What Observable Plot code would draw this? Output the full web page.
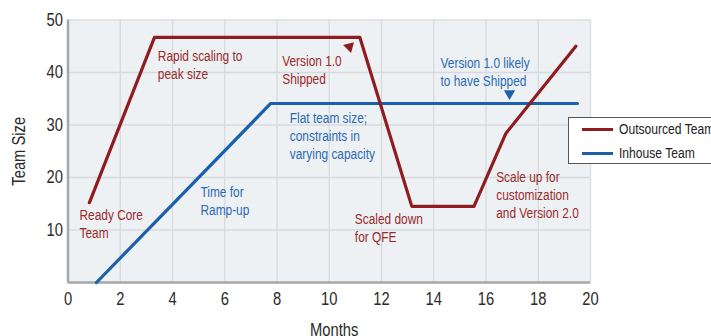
<!DOCTYPE html>
<html>
<head>
<meta charset="utf-8">
<script src="https://cdn.jsdelivr.net/npm/d3@7"></script>
<script src="https://cdn.jsdelivr.net/npm/@observablehq/plot@0.6"></script>
<style>
  html, body { margin: 0; padding: 0; background: #fff; overflow: hidden; width: 711px; height: 336px; }
  #wrap { position: relative; width: 711px; height: 336px; overflow: hidden; }
  #legend {
    position: absolute; left: 568px; top: 117px; width: 200px; height: 47px;
    border: 1.5px solid #555; background: #fff; box-sizing: border-box;
    font-family: 'Liberation Sans', Arial, sans-serif; font-size: 15.5px; color: #222;
  }
  .item { position: absolute; left: 13px; display: flex; align-items: center; white-space: nowrap; }
  .sw { width: 31px; height: 3px; margin-right: 6px; flex: none; }
  .lab { display: inline-block; transform: scaleX(0.78); transform-origin: 0 50%; }
</style>
</head>
<body>
<div id="wrap"></div>
<script>
// ---- data ----
const outsourcedMonth = [0.82, 3.31, 11.17, 13.16, 15.54, 16.76, 19.44];
const outsourcedSize  = [15.2, 46.7, 46.7, 14.5, 14.5, 28.4, 45.0];
const inhouseMonth = [1.09, 7.76, 19.5];
const inhouseSize  = [0, 34.1, 34.1];

const xTicks = [0, 2, 4, 6, 8, 10, 12, 14, 16, 18, 20];
const yTicks = [10, 20, 30, 40, 50];
const xGrid = [2, 4, 6, 8, 10, 12, 14, 16, 18];
const yGrid = [10, 20, 30, 40];

const seriesNames = ["Outsourced Team", "Inhouse Team"];
const seriesColors = ["#8e1c20", "#1d60a9"];

const noteTexts = [
  "Ready Core\nTeam",
  "Rapid scaling to\npeak size",
  "Version 1.0\nShipped",
  "Flat team size;\nconstraints in\nvarying capacity",
  "Time for\nRamp-up",
  "Version 1.0 likely\nto have Shipped",
  "Scaled down\nfor QFE",
  "Scale up for\ncustomization\nand Version 2.0"
];
const noteMonth = [0.44, 3.44, 8.2, 8.49, 5.07, 14.26, 10.98, 16.39];
const noteSize  = [14.3, 44.7, 43.6, 32.8, 18.8, 43.2, 13.6, 21.5];
const noteSeries = ["Outsourced Team", "Outsourced Team", "Outsourced Team", "Inhouse Team", "Inhouse Team", "Inhouse Team", "Outsourced Team", "Outsourced Team"];

const markerMonth = [10.77, 16.9];
const markerSize  = [44.9, 36.0];
const markerSeries = ["Outsourced Team", "Inhouse Team"];
const markerRotate = [165, 180];

// ---- tables ----
const outsourced = outsourcedMonth.map((m, i) => ({month: m, size: outsourcedSize[i]}));
const inhouse = inhouseMonth.map((m, i) => ({month: m, size: inhouseSize[i]}));
const notes = noteTexts.map((t, i) => ({text: t, month: noteMonth[i], size: noteSize[i], series: noteSeries[i]}));
const markers = markerMonth.map((m, i) => ({month: m, size: markerSize[i], series: markerSeries[i], rotate: markerRotate[i]}));
const textColor = {"Outsourced Team": "#9a2a2c", "Inhouse Team": "#2a6ab3"};

const font = "'Liberation Sans', Arial, sans-serif";

const chart = Plot.plot({
  width: 711,
  height: 336,
  marginLeft: 67.5,
  marginRight: 121,
  marginTop: 19.5,
  marginBottom: 54,
  style: {fontFamily: font, fontSize: "18px", color: "#2a2a2a", background: "#fff"},
  x: {domain: [0, 20]},
  y: {domain: [0, 50]},
  marks: [
    Plot.frame({fill: "#eef1f3", stroke: "#dce0e3", strokeWidth: 1.5}),
    Plot.gridX(xGrid, {stroke: "#d6dadd", strokeOpacity: 1, strokeWidth: 1.3}),
    Plot.gridY(yGrid, {stroke: "#d6dadd", strokeOpacity: 1, strokeWidth: 1.3}),
    Plot.ruleX([0], {stroke: "#a3a8ad", strokeWidth: 2.5}),
    Plot.ruleY([0], {stroke: "#a3a8ad", strokeWidth: 2.5}),
    Plot.axisX({ticks: xTicks, tickSize: 0, tickPadding: 10, label: "Months", labelAnchor: "center", labelArrow: "none", labelOffset: 53, fontSize: 18}),
    Plot.axisY({ticks: yTicks, tickSize: 0, tickPadding: 5, label: "Team Size", labelAnchor: "center", labelArrow: "none", labelOffset: 56, fontSize: 18}),
    Plot.line(inhouse, {x: "month", y: "size", stroke: seriesColors[1], strokeWidth: 3.2}),
    Plot.line(outsourced, {x: "month", y: "size", stroke: seriesColors[0], strokeWidth: 3.2}),
    Plot.text(notes, {x: "month", y: "size", text: "text", fill: d => textColor[d.series], textAnchor: "start", lineAnchor: "top", fontSize: 14.5, lineHeight: 1.24}),
    Plot.dot(markers, {x: "month", y: "size", symbol: "triangle", r: 4.2, fill: d => d.series === "Outsourced Team" ? seriesColors[0] : seriesColors[1], stroke: "none", rotate: "rotate"})
  ]
});

// condense all chart text horizontally (narrow face as in the reference)
chart.querySelectorAll("text").forEach(t => {
  const shift = t.textContent.trim() === "Months" ? " translate(5,0)" : "";
  const tr = t.getAttribute("transform");
  if (tr) {
    t.setAttribute("transform", tr + shift + " scale(0.82,1)");
  } else {
    const x = +t.getAttribute("x") || 0, y = +t.getAttribute("y") || 0;
    t.removeAttribute("x"); t.removeAttribute("y");
    t.setAttribute("transform", `translate(${x},${y})${shift} scale(0.82,1)`);
  }
});

const wrap = document.getElementById("wrap");
wrap.appendChild(chart);

// legend
const legend = document.createElement("div");
legend.id = "legend";
seriesNames.forEach((name, i) => {
  const item = document.createElement("div");
  item.className = "item";
  item.style.top = (i === 0 ? 2 : 26) + "px";
  const sw = document.createElement("span");
  sw.className = "sw";
  sw.style.background = seriesColors[i];
  const label = document.createElement("span");
  label.className = "lab";
  label.textContent = name;
  item.appendChild(sw);
  item.appendChild(label);
  legend.appendChild(item);
});
wrap.appendChild(legend);
</script>
</body>
</html>
